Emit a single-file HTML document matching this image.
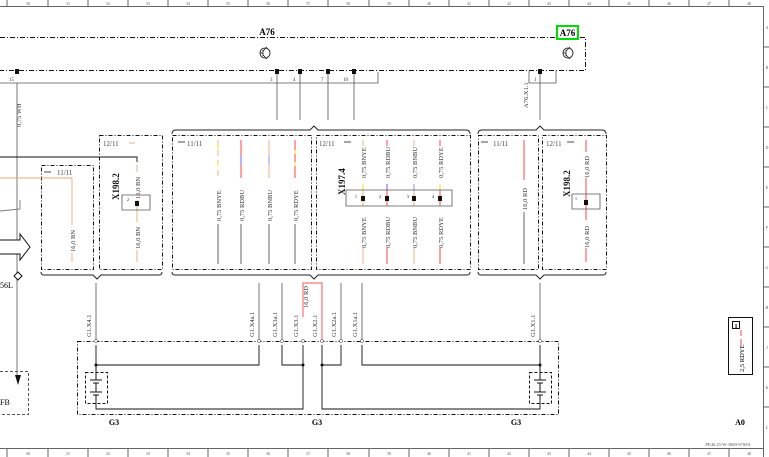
<!DOCTYPE html>
<html><head><meta charset="utf-8"><style>
html,body{margin:0;padding:0;background:#fff;width:769px;height:457px;overflow:hidden}
svg{display:block;font-family:"Liberation Serif",serif}
</style></head><body>
<svg width="769" height="457" viewBox="0 0 769 457" xmlns="http://www.w3.org/2000/svg">
<g stroke="#666" stroke-width="1" fill="none">
<line x1="0" y1="6.5" x2="763" y2="6.5"/>
<line x1="0" y1="448.5" x2="763" y2="448.5"/>
<line x1="763.5" y1="6" x2="763.5" y2="457"/>
<path d="M7 0v6M48 0v6M88 0v6M128 0v6M168 0v6M208 0v6M248 0v6M288 0v6M328 0v6M369 0v6M409 0v6M449 0v6M489 0v6M529 0v6M569 0v6M609 0v6M649 0v6M689 0v6M729 0v6"/>
<path d="M7 449v8M48 449v8M88 449v8M128 449v8M168 449v8M208 449v8M248 449v8M288 449v8M328 449v8M369 449v8M409 449v8M449 449v8M489 449v8M529 449v8M569 449v8M609 449v8M649 449v8M689 449v8M729 449v8"/>
<path d="M763 47h6M763 87h6M763 127h6M763 167h6M763 207h6M763 247h6M763 287h6M763 327h6M763 367h6M763 407h6"/>
</g>
<g font-size="4" fill="#555" text-anchor="middle">
<text x="28" y="5">30</text><text x="68" y="5">31</text><text x="108" y="5">32</text><text x="148" y="5">33</text><text x="188" y="5">34</text><text x="228" y="5">35</text><text x="268" y="5">36</text><text x="308" y="5">37</text><text x="348" y="5">38</text><text x="389" y="5">39</text><text x="429" y="5">40</text><text x="469" y="5">41</text><text x="509" y="5">42</text><text x="549" y="5">43</text><text x="589" y="5">44</text><text x="629" y="5">45</text><text x="669" y="5">46</text><text x="709" y="5">47</text><text x="749" y="5">48</text>
<text x="28" y="455">30</text><text x="68" y="455">31</text><text x="108" y="455">32</text><text x="148" y="455">33</text><text x="188" y="455">34</text><text x="228" y="455">35</text><text x="268" y="455">36</text><text x="308" y="455">37</text><text x="348" y="455">38</text><text x="389" y="455">39</text><text x="429" y="455">40</text><text x="469" y="455">41</text><text x="509" y="455">42</text><text x="549" y="455">43</text><text x="589" y="455">44</text><text x="629" y="455">45</text><text x="669" y="455">46</text><text x="709" y="455">47</text><text x="749" y="455">48</text>
<text x="767" y="29">A</text><text x="767" y="69">B</text><text x="767" y="109">C</text><text x="767" y="149">D</text><text x="767" y="189">E</text><text x="767" y="229">F</text><text x="767" y="269">G</text><text x="767" y="309">H</text><text x="767" y="349">J</text><text x="767" y="389">K</text><text x="767" y="429">L</text>
<text x="728" y="446" font-size="4.5">PE46.25-W-3000-97SFA</text>
</g>

<g stroke="#111" stroke-width="1" fill="none" stroke-dasharray="5,2,1,2">
<path d="M0 37.5H585.5V70.5H0"/>
</g>
<text x="267" y="35" font-size="9" font-weight="bold" text-anchor="middle">A76</text>
<rect x="557" y="26" width="21" height="13" fill="#fff" stroke="#0d0" stroke-width="2"/>
<text x="567.5" y="36" font-size="9" font-weight="bold" text-anchor="middle">A76</text>
<g stroke="#111" fill="none" stroke-width="0.8">
<circle cx="265" cy="53" r="5"/><path d="M260 53h3M263 50v6M263 51l4-4M263 55l4 4"/>
<circle cx="568" cy="53" r="5"/><path d="M563 53h3M566 50v6M566 51l4-4M566 55l4 4"/>
</g>
<g stroke="#555" fill="none" stroke-width="0.8">
<path d="M0 83H378V72"/>
<path d="M529 71v12h27V71"/>
<path d="M17 83V380"/>
<path d="M277 72V120M300 72V120M328 72V120M354 72V120M540 72V120"/>
</g>
<g fill="#111"><rect x="15" y="69" width="4" height="5"/><rect x="275" y="69" width="4" height="5"/><rect x="298" y="69" width="4" height="5"/><rect x="326" y="69" width="4" height="5"/><rect x="352" y="69" width="4" height="5"/><rect x="538" y="69" width="4" height="5"/></g>
<g font-size="5" fill="#333">
<text x="9" y="81">15</text><text x="270" y="81">3</text><text x="293" y="81">4</text><text x="321" y="81">7</text><text x="343" y="81">10</text><text x="534" y="81">1</text>
</g>
<g font-size="6.5" fill="#333">
<text transform="translate(21,127) rotate(-90)">0,75 WH</text>
<text transform="translate(528,108) rotate(-90)">A76.X1.1</text>
</g>

<g stroke="#222" fill="none" stroke-width="1">
<path d="M172 134q0-4 4-4H310l4-4 4 4H466q4 0 4 4"/>
<path d="M478 134q0-4 4-4H536l4-4 4 4H602q4 0 4 4"/>
<path d="M41 272q0 3 3 3H93l4 4 4-4H159q3 0 3-3"/>
<path d="M172 272q0 3 3 3H310l4 4 4-4H467q3 0 3-3"/>
<path d="M478 272q0 3 3 3H536l4 4 4-4H603q3 0 3-3"/>
</g>
<g stroke="#111" fill="none" stroke-width="1" stroke-dasharray="4,2,1,2">
<rect x="41.5" y="165.5" width="52" height="104"/>
<rect x="99.5" y="135.5" width="63" height="134"/>
<rect x="172.5" y="135.5" width="139" height="134"/>
<rect x="316.5" y="135.5" width="154" height="134"/>
<rect x="478.5" y="135.5" width="60" height="134"/>
<rect x="542.5" y="135.5" width="64" height="134"/>
</g>
<g font-size="7" fill="#444">
<text x="57" y="175">11/11</text><text x="103" y="146">12/11</text><text x="187" y="146">11/11</text><text x="319" y="146">12/11</text><text x="493" y="146">11/11</text><text x="546" y="146">12/11</text>
</g>
<g stroke="#111" stroke-width="0.8"><path d="M44 172h7M178 142h7M344 142h7M481 142h7M567 142h7"/><path d="M129 143h6" stroke="#e8a070"/></g>

<g fill="none" stroke-width="0.9">
<path d="M0 157H137V162" stroke="#111"/>
<path d="M0 178H72V262" stroke="#e8a878"/>
<path d="M0 211L20 209V200" stroke="#777"/>
<path d="M137 165V262" stroke="#e8a878"/>
</g>
<rect x="68" y="225" width="8" height="28" fill="#fff"/><rect x="133" y="172" width="8" height="28" fill="#fff"/><rect x="133" y="222" width="8" height="28" fill="#fff"/>
<g font-size="6.5" fill="#333">
<text transform="translate(75,252) rotate(-90)">16,0 BN</text>
<text transform="translate(140,199) rotate(-90)">16,0 BN</text>
<text transform="translate(140,249) rotate(-90)">16,0 BN</text>
<text transform="translate(119,200) rotate(-90)" font-size="9" font-weight="bold" fill="#111">X198.2</text>
</g>
<path d="M122 195h28v15h-28z" fill="none" stroke="#555" stroke-width="0.8"/>
<rect x="135" y="201" width="4" height="5" fill="#111"/>
<text x="127" y="201" font-size="4">2</text>
<path d="M0 240H20V234L30 247L20 260V254H0" fill="#fff" stroke="#111" stroke-width="1"/>
<path d="M18 272l4 4-4 4-4-4z" fill="#fff" stroke="#111"/>
<text x="0" y="288" font-size="8">56L</text>
<path d="M15 375l3 10 3-10" fill="#111"/>
<path d="M0 371.5H28.5V414.5H0" fill="none" stroke="#555" stroke-dasharray="3,2"/>
<text x="0" y="405" font-size="8">FB</text>

<g fill="none" stroke-width="1">
<path d="M218 140V178" stroke="#e8b080" stroke-dasharray="6,4"/><path d="M218 145v4M218 162v4" stroke="#ee0"/>
<path d="M241 140V178" stroke="#f44"/><path d="M241 156v8" stroke="#66f"/>
<path d="M269 140V178" stroke="#e8b080"/><path d="M269 156v8" stroke="#88f"/>
<path d="M295 140V178" stroke="#f44"/><path d="M295 150v4M295 162v4" stroke="#ee0"/>
<path d="M218 224V264M241 224V264M269 224V264M295 224V264" stroke="#666"/>
</g>
<g font-size="6.5" fill="#333">
<text transform="translate(221,221) rotate(-90)">0,75 BNYE</text>
<text transform="translate(244,221) rotate(-90)">0,75 RDBU</text>
<text transform="translate(272,221) rotate(-90)">0,75 BNBU</text>
<text transform="translate(298,221) rotate(-90)">0,75 RDYE</text>
</g>

<g fill="none" stroke-width="1">
<path d="M363 140V176M363 218V264" stroke="#e8b080"/><path d="M363 184v6" stroke="#ee0"/>
<path d="M387 140V176M387 218V264" stroke="#f44"/><path d="M387 184v6" stroke="#66f"/>
<path d="M414 140V176M414 218V264" stroke="#e8b080"/><path d="M414 184v6" stroke="#88f"/>
<path d="M440 140V176M440 218V264" stroke="#f44"/><path d="M440 184v6" stroke="#ee0"/>
<path d="M363 190v16M414 190v16" stroke="#e8b080"/>
<path d="M387 190v16M440 190v16" stroke="#f44"/>
</g>
<path d="M346 190h106v16H346z" fill="none" stroke="#555" stroke-width="0.8"/>
<g fill="#111"><rect x="361" y="196" width="4" height="5"/><rect x="385" y="196" width="4" height="5"/><rect x="412" y="196" width="4" height="5"/><rect x="438" y="196" width="4" height="5"/></g>
<g font-size="4"><text x="355" y="198">1</text><text x="379" y="198">2</text><text x="407" y="198">3</text><text x="432" y="198">4</text></g>
<rect x="359" y="146" width="84" height="32" fill="#fff"/><rect x="359" y="214" width="84" height="34" fill="#fff"/>
<g font-size="6.5" fill="#333">
<text transform="translate(366,178) rotate(-90)">0,75 BNYE</text><text transform="translate(390,178) rotate(-90)">0,75 RDBU</text><text transform="translate(417,178) rotate(-90)">0,75 BNBU</text><text transform="translate(443,178) rotate(-90)">0,75 RDYE</text>
<text transform="translate(366,248) rotate(-90)">0,75 BNYE</text><text transform="translate(390,248) rotate(-90)">0,75 RDBU</text><text transform="translate(417,248) rotate(-90)">0,75 BNBU</text><text transform="translate(443,248) rotate(-90)">0,75 RDYE</text>
<text transform="translate(345,195) rotate(-90)" font-size="9" font-weight="bold" fill="#111">X197.4</text>
</g>

<g fill="none" stroke-width="1">
<path d="M524 140V180" stroke="#f44"/><path d="M524 212V264" stroke="#666"/>
<path d="M586 140V152M586 178V262" stroke="#f44"/>
</g>
<path d="M572 194h28v15h-28z" fill="none" stroke="#555" stroke-width="0.8"/>
<rect x="584" y="200" width="4" height="5" fill="#111"/><text x="575" y="200" font-size="4">1</text>
<rect x="582" y="220" width="8" height="28" fill="#fff"/>
<g font-size="6.5" fill="#333">
<text transform="translate(527,210) rotate(-90)">16,0 RD</text>
<text transform="translate(589,178) rotate(-90)">16,0 RD</text>
<text transform="translate(589,248) rotate(-90)">16,0 RD</text>
<text transform="translate(570,197) rotate(-90)" font-size="9" font-weight="bold" fill="#111">X198.2</text>
</g>

<g stroke="#666" fill="none" stroke-width="0.9">
<path d="M96 283V341M259 283V341M282 283V341M341 283V341M362 283V341M540 283V341"/>
</g>
<path d="M303 317V283H322V341" fill="none" stroke="#f55" stroke-width="1"/>
<g stroke="#111" fill="none" stroke-width="1" stroke-dasharray="4,2,1,2"><rect x="77.5" y="341.5" width="481" height="73"/></g>
<g stroke="#111" fill="none" stroke-width="0.9">
<path d="M96 345V365H259V345M282 345V365H303V345M303 365V409H96V398"/>
<path d="M322 345V409H540V400M322 365H341V345M362 345V365H540V345"/>
</g>
<g fill="#111"><circle cx="96" cy="365" r="1.5"/><circle cx="303" cy="365" r="1.5"/><circle cx="322" cy="365" r="1.5"/><circle cx="540" cy="365" r="1.5"/></g>
<g stroke="#111" fill="none" stroke-dasharray="3,2"><rect x="85.5" y="372.5" width="22" height="31"/><rect x="529.5" y="372.5" width="22" height="31"/></g>
<g stroke="#111" stroke-width="1"><path d="M96 365v15M90 380h12M93 383h6M96 383v9M90 392h12M93 395h6M96 395v5"/><path d="M540 365v15M534 380h12M537 383h6M540 383v9M534 392h12M537 395h6M540 395v5"/></g>
<g fill="#fff" stroke="#555" stroke-width="0.6"><circle cx="96" cy="341" r="1.5"/><circle cx="259" cy="341" r="1.5"/><circle cx="282" cy="341" r="1.5"/><circle cx="303" cy="341" r="1.5"/><circle cx="322" cy="341" r="1.5"/><circle cx="341" cy="341" r="1.5"/><circle cx="362" cy="341" r="1.5"/><circle cx="540" cy="341" r="1.5"/></g>
<g font-size="6.5" fill="#333">
<text transform="translate(91,337) rotate(-90)">G1.X4.1</text>
<text transform="translate(254,337) rotate(-90)">G1.X4a.1</text>
<text transform="translate(277,337) rotate(-90)">G1.X3a.1</text>
<text transform="translate(298,337) rotate(-90)">G1.X3.1</text>
<text transform="translate(308,308) rotate(-90)">16,0 RD</text>
<text transform="translate(317,337) rotate(-90)">G1.X2.1</text>
<text transform="translate(336,337) rotate(-90)">G1.X2a.1</text>
<text transform="translate(357,337) rotate(-90)">G1.X1a.1</text>
<text transform="translate(535,337) rotate(-90)">G1.X1.1</text>
</g>
<g font-size="8" font-weight="bold" text-anchor="middle"><text x="114" y="425">G3</text><text x="317" y="425">G3</text><text x="516" y="425">G3</text><text x="740" y="425">A0</text></g>

<rect x="728.5" y="317.5" width="24" height="57" fill="none" stroke="#111" stroke-width="1"/>
<rect x="732.5" y="321.5" width="7" height="7" fill="none" stroke="#111"/>
<text x="736" y="328" font-size="6" text-anchor="middle" font-weight="bold">1</text>
<path d="M741 330V358" stroke="#f44" stroke-dasharray="6,3"/>
<rect x="737" y="345" width="8" height="26" fill="#fff"/>
<text transform="translate(744,372) rotate(-90)" font-size="6.5">2,5 RDYE</text>
</svg>
</body></html>
